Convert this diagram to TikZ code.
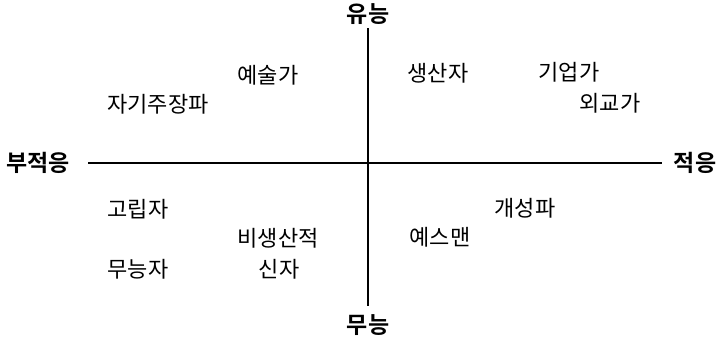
\documentclass[tikz,border=0pt]{standalone}
\usepackage{fontspec}
\newfontfamily\kr{Noto Sans CJK KR}
\newfontfamily\krb{Noto Sans CJK KR Bold}
\begin{document}
\begin{tikzpicture}[x=1pt,y=-1pt,
  lab/.style={font=\kr\fontsize{22}{22}\selectfont, inner sep=0pt, anchor=center},
  axlab/.style={font=\krb\fontsize{23}{23}\selectfont, inner sep=0pt, anchor=center},
  axis/.style={line width=1.8pt}]
\useasboundingbox (0,0) rectangle (719,341);
% axis labels
\node[axlab] (top) at (368,14) {유능};
\node[axlab] (bot) at (368,325) {무능};
\node[axlab] (left) at (38,163) {부적응};
\node[axlab] (right) at (695,163) {적응};
% axis ends
\coordinate (vt) at (368,28);
\coordinate (vb) at (368,306);
\coordinate (hl) at (88,163);
\coordinate (hr) at (662,163);
\draw[axis, line width=2.2pt] (vt) -- (vb);
\draw[axis] (hl) -- (hr);
% quadrant labels
\node[lab] (a1) at (268,75) {예술가};
\node[lab] (a2) at (158,104) {자기주장파};
\node[lab] (b1) at (438,73) {생산자};
\node[lab] (b2) at (569,72) {기업가};
\node[lab] (b3) at (610,103) {외교가};
\node[lab] (c1) at (138,209) {고립자};
\node[lab] (c2) at (278,238) {비생산적};
\node[lab] (c3) at (138,269) {무능자};
\node[lab] (c4) at (279,269) {신자};
\node[lab] (d1) at (525,208) {개성파};
\node[lab] (d2) at (440,237) {예스맨};
\end{tikzpicture}
\end{document}
